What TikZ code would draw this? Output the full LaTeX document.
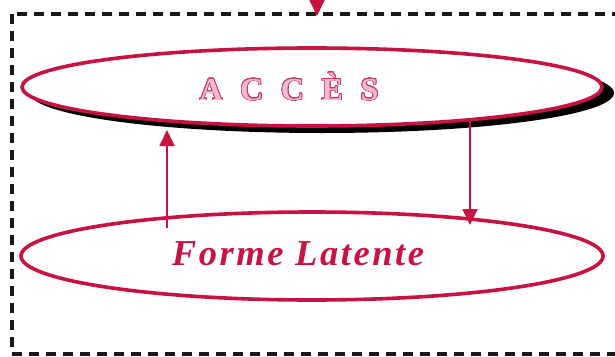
\documentclass[tikz,border=0pt]{standalone}
\usepackage{fontspec}
\setmainfont{Liberation Serif}
\usepackage{contour}
\usetikzlibrary{shapes.geometric,arrows.meta}
\definecolor{crim}{RGB}{200,18,66}
\definecolor{pinkline}{RGB}{200,55,100}
\definecolor{pinkfill}{RGB}{245,185,205}
\definecolor{boxgray}{RGB}{25,25,25}
\contourlength{0.7pt}
\contournumber{24}
\tikzset{
  oval/.style={ellipse,draw=crim,line width=3.6pt,inner sep=0pt,fill=white},
  arr/.style={draw=crim,line width=1.8pt,-{Triangle[width=15pt,length=16pt]}},
  frame/.style={draw=boxgray,line width=3.2pt,dash pattern=on 10pt off 7pt},
}
\begin{document}
\begin{tikzpicture}[x=1pt,y=-1pt]
\useasboundingbox (0,0) rectangle (615,356);
\fill[white] (0,0) rectangle (615,356);
% dashed frame
\coordinate (fa) at (12,14);
\coordinate (fb) at (640,354);
\draw[frame] (fa) rectangle (fb);
% top incoming arrow
\coordinate (topIn) at (317,-30);
\coordinate (topTip) at (317,16);
\draw[arr] (topIn) -- (topTip);
% shadow + upper ellipse
\node[ellipse,fill=black,inner sep=0pt,minimum width=584pt,minimum height=80pt] (sh) at (322,93) {};
\node[oval,minimum width=580pt,minimum height=78pt] (e1) at (312,87) {};
\node[anchor=base] (acc) at (289,100) {\fontsize{32}{33}\selectfont\bfseries\addfontfeature{LetterSpace=55}\color{pinkfill}\contour{pinkline}{ACCÈS}};
% lower ellipse
\node[oval,minimum width=582pt,minimum height=88pt] (e2) at (312,256) {};
\node[anchor=base,text=crim] (fl) at (298,265) {\fontsize{36.5}{38}\selectfont\bfseries\itshape\addfontfeature{LetterSpace=7}Forme Latente};
% connectors
\coordinate (upTip) at (167,130);
\coordinate (upFoot) at (167,228);
\draw[arr] (upFoot) -- (upTip);
\coordinate (dnTop) at (470,121);
\coordinate (dnTip) at (470,225);
\draw[arr] (dnTop) -- (dnTip);
\end{tikzpicture}
\end{document}
